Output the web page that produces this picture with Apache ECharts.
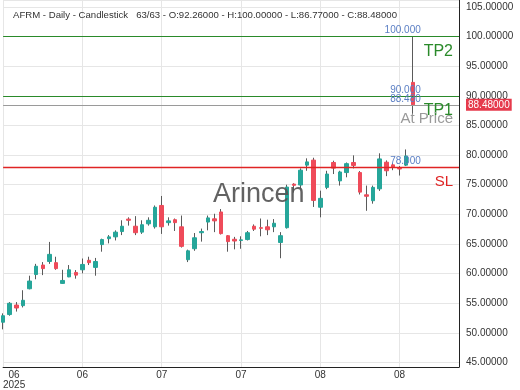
<!DOCTYPE html>
<html><head><meta charset="utf-8">
<script src="https://cdn.jsdelivr.net/npm/echarts@6/dist/echarts.min.js"></script>
<style>html,body{margin:0;padding:0;background:#fff}#c{width:520px;height:390px}</style>
</head><body><div id="c"></div>
<script>
const dates = [
  '2025-06-02','2025-06-03','2025-06-04','2025-06-05','2025-06-06','2025-06-09','2025-06-10','2025-06-11','2025-06-12','2025-06-13',
  '2025-06-16','2025-06-17','2025-06-18','2025-06-20','2025-06-23','2025-06-24','2025-06-25','2025-06-26','2025-06-27','2025-06-30',
  '2025-07-01','2025-07-02','2025-07-03','2025-07-07','2025-07-08','2025-07-09','2025-07-10','2025-07-11','2025-07-14','2025-07-15',
  '2025-07-16','2025-07-17','2025-07-18','2025-07-21','2025-07-22','2025-07-23','2025-07-24','2025-07-25','2025-07-28','2025-07-29',
  '2025-07-30','2025-07-31','2025-08-01','2025-08-04','2025-08-05','2025-08-06','2025-08-07','2025-08-08','2025-08-11','2025-08-12',
  '2025-08-13','2025-08-14','2025-08-15','2025-08-18','2025-08-19','2025-08-20','2025-08-21','2025-08-22','2025-08-25','2025-08-26',
  '2025-08-27','2025-08-28','2025-08-29'
];
const opens = [
  51.8,53.1,54.7,54.6,57.45,59.85,61.45,62.05,61.85,58.35,
  59.45,60.2,60.65,62.25,61.05,64.9,65.9,66.2,67.1,69.2,
  68.0,67.0,68.4,67.9,71.5,68.6,69.1,67.9,62.35,64.2,
  66.9,68.7,69.25,70.4,66.4,65.8,65.6,65.75,68.0,67.75,
  67.9,67.9,65.25,67.75,75.1,74.95,78.3,79.15,71.2,74.55,
  78.75,75.65,77.05,78.75,77.05,73.3,72.3,74.3,78.8,78.35,
  77.75,78.3,92.26
];
const highs = [
  53.3,55.2,55.2,57.2,59.65,61.65,61.95,65.35,62.85,60.65,
  61.45,60.6,62.55,62.85,62.65,65.9,66.5,67.3,69.0,69.5,
  69.7,69.0,69.5,71.5,73.1,69.5,69.3,69.8,64.05,66.85,
  67.6,69.8,70.1,70.9,66.5,66.2,66.3,67.2,68.3,69.3,
  69.1,69.2,67.0,75.0,75.25,77.75,79.45,79.55,74.0,77.35,
  79.05,77.35,78.75,79.95,77.3,74.85,74.85,80.3,79.1,78.65,
  78.15,80.95,100.0
];
const lows = [
  50.6,52.9,53.6,54.3,57.35,59.05,59.75,61.65,60.65,58.3,
  59.4,59.15,60.05,61.45,59.65,63.7,65.1,65.6,66.5,68.1,
  66.5,66.7,68.1,67.6,66.7,68.1,67.2,64.4,61.95,63.85,
  65.4,67.3,67.0,66.6,63.7,64.1,64.2,65.6,67.2,66.3,
  66.5,67.0,62.6,67.6,73.7,74.25,77.35,71.25,69.5,74.25,
  76.8,74.85,76.25,77.75,73.35,70.6,71.8,73.95,76.45,77.45,
  76.55,78.15,86.77
];
const closes = [
  52.9,55.0,54.2,55.5,58.75,61.25,60.85,63.25,60.85,58.85,
  60.65,59.75,61.55,61.85,62.05,65.75,66.2,67.0,68.0,69.0,
  66.9,68.25,69.0,71.2,67.9,68.9,68.6,64.6,63.85,66.05,
  67.1,69.4,68.9,66.75,65.4,65.5,65.7,66.9,67.5,67.65,
  67.4,68.5,66.4,74.6,74.9,77.45,78.85,72.35,72.7,76.8,
  77.8,77.15,78.55,78.25,73.75,73.05,74.55,79.35,77.35,78.0,
  77.65,79.85,88.48
];
const padCategories = ['p1','p2','p3','p4','p5','p6','p7'];
const levelTP2 = 100.0;
const levelTP1 = 90.0;
const levelAtPrice = 88.48;
const levelSL = 78.0;
const levelTags = ['100.000','90.000','88.480','78.000'];
const titleText = 'AFRM - Daily - Candlestick   63/63 - O:92.26000 - H:100.00000 - L:86.77000 - C:88.48000';

const UP = '#26a69a', DOWN = '#ef4b5a', WICK = '#5a5a5a';
const GREEN = '#2a8a2a', RED = '#e02424', GRAY = '#9a9a9a', BLUE = '#5b7fc4';
const FONT = '"Liberation Sans", Arial, sans-serif';

const categories = dates.concat(padCategories);
const wickData = dates.map((d, i) => [opens[i], closes[i], lows[i], highs[i]]);
const bodyData = dates.map((d, i) => [opens[i], closes[i], Math.min(opens[i], closes[i]), Math.max(opens[i], closes[i])]);
const lastDate = dates[dates.length - 1];
const isTick = (idx) => idx % 12 === 0 && idx < dates.length;

function levelLine(value, color, text, fontSize, width) {
  return {
    name: text, type: 'line', data: [], silent: true, z: 3,
    markLine: {
      silent: true, symbol: ['none', 'none'], animation: false,
      lineStyle: {color: color, width: width, type: 'solid', opacity: 1},
      label: {show: true, formatter: text, position: 'insideEndBottom', distance: [6, 7], color: color, fontSize: fontSize},
      emphasis: {disabled: true},
      data: [{yAxis: value}]
    }
  };
}

const chart = echarts.init(document.getElementById('c'), null, {renderer: 'canvas'});
chart.setOption({
  animation: false,
  backgroundColor: '#fff',
  textStyle: {fontFamily: FONT},
  title: {
    text: titleText, left: 8, top: 5,
    textStyle: {fontSize: 9.6, fontWeight: 'normal', color: '#333', fontFamily: FONT}
  },
  grid: {left: 3, right: 61, top: 0, bottom: 21},
  xAxis: {
    type: 'category', data: categories, boundaryGap: false,
    axisLine: {show: true, lineStyle: {color: '#222', width: 1}},
    axisTick: {show: false},
    axisLabel: {
      interval: (idx) => isTick(idx),
      fontSize: 10, color: '#333', margin: 3, lineHeight: 10,
      alignMinLabel: 'left',
      formatter: (val, idx) => {
        const m = val.slice(5, 7);
        if (idx === 0) return '{f|' + m + '}\n{f|' + val.slice(0, 4) + '}';
        return m;
      },
      rich: {f: {width: 22, align: 'center', fontSize: 10, lineHeight: 10, color: '#333'}}
    },
    splitLine: {show: true, interval: (idx) => isTick(idx), lineStyle: {color: '#e6e6e6', width: 1}}
  },
  yAxis: {
    type: 'value', position: 'right', scale: true,
    min: 44.25, max: 106.16, splitNumber: 12, minInterval: 5, maxInterval: 5,
    axisLine: {show: true, lineStyle: {color: '#222', width: 1}},
    axisTick: {show: false},
    axisLabel: {
      fontSize: 10, color: '#333', margin: 7,
      showMinLabel: false, showMaxLabel: false,
      formatter: (v) => v.toFixed(5)
    },
    splitLine: {show: true, lineStyle: {color: '#e6e6e6', width: 1}}
  },
  series: [
    levelLine(levelTP2, GREEN, 'TP2', 16, 1),
    levelLine(levelTP1, GREEN, 'TP1', 16, 1),
    levelLine(levelAtPrice, GRAY, 'At Price', 15, 1),
    levelLine(levelSL, RED, 'SL', 15, 1.3),
    {
      name: 'wick', type: 'candlestick', data: wickData, barWidth: 1, clip: false,
      itemStyle: {color: WICK, color0: WICK, borderColor: WICK, borderColor0: WICK, borderWidth: 1}
    },
    {
      name: 'body', type: 'candlestick', data: bodyData, barWidth: 4, clip: false,
      itemStyle: {color: UP, color0: DOWN, borderColor: UP, borderColor0: DOWN, borderWidth: 1},
      markLine: {
        silent: true, symbol: ['none', 'none'], animation: false,
        lineStyle: {color: 'rgba(0,0,0,0)', width: 0},
        data: [
          {yAxis: levelAtPrice,
           label: {show: true, formatter: levelAtPrice.toFixed(5), position: 'end', distance: 7, color: '#fff',
                   backgroundColor: '#e63a4c', padding: [1, 2, 1, 2], fontSize: 10}}
        ]
      },
      markPoint: {
        silent: true, symbol: 'circle', symbolSize: 0, animation: false,
        label: {show: true, position: [8, -6], align: 'right', verticalAlign: 'middle', color: BLUE, fontSize: 10},
        data: [
          {coord: [lastDate, levelTP2], value: levelTags[0], label: {formatter: levelTags[0]}},
          {coord: [lastDate, levelTP1], value: levelTags[1], label: {formatter: levelTags[1]}},
          {coord: [lastDate, levelAtPrice], value: levelTags[2], label: {formatter: levelTags[2]}},
          {coord: [lastDate, levelSL], value: levelTags[3], label: {formatter: levelTags[3]}}
        ]
      }
    }
  ],
  graphic: [{
    type: 'text', left: 213, top: 181, z: 100, silent: true,
    style: {text: 'Arincen', fill: 'rgba(85,85,85,0.92)', fontSize: 27, fontFamily: FONT}
  }]
});
</script></body></html>
